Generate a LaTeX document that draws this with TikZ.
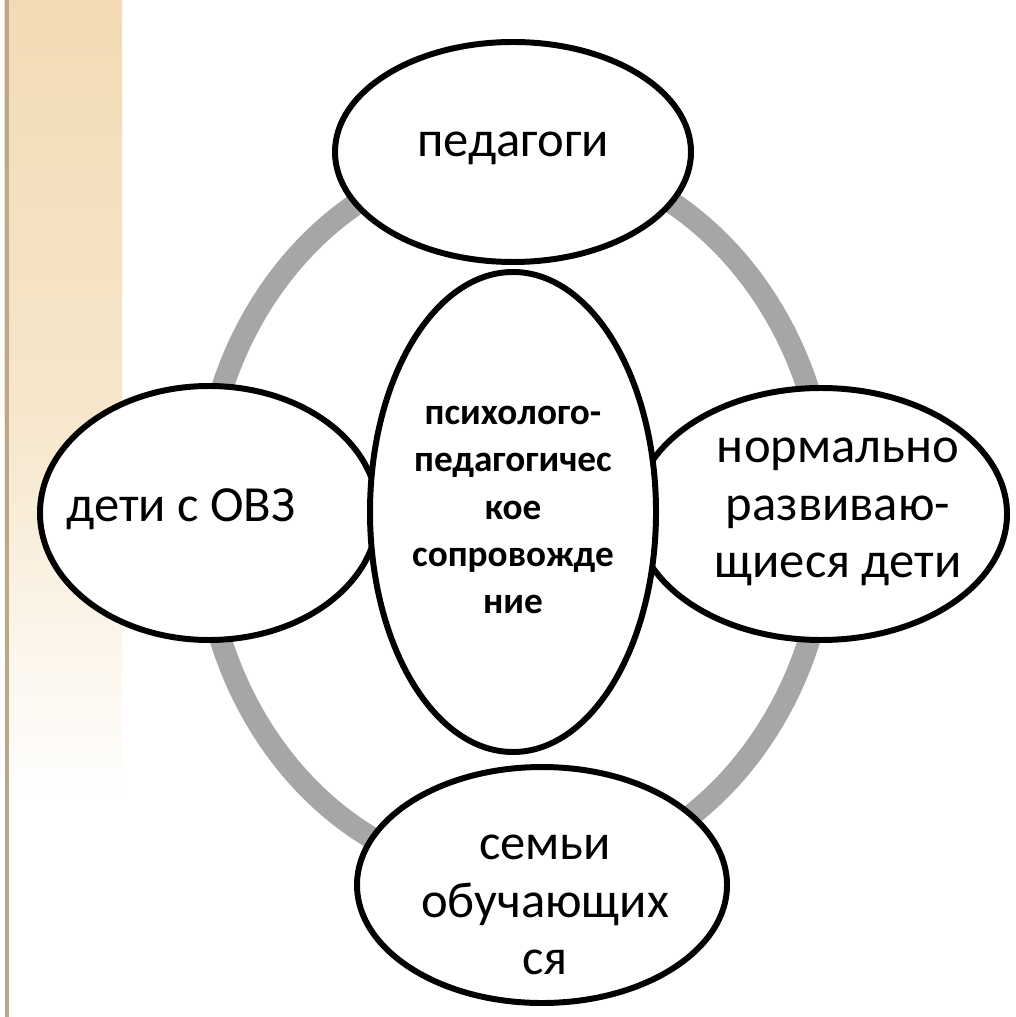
\documentclass[tikz,border=0pt]{standalone}
\usepackage{fontspec}
\setmainfont{Carlito}
\usetikzlibrary{shapes.geometric}
\definecolor{ringgray}{RGB}{166,166,166}
\definecolor{stripbeige}{RGB}{242,219,180}
\definecolor{stripline}{RGB}{185,168,140}

\begin{document}
\begin{tikzpicture}[
        bubble/.style={draw, line width=1.7pt, ellipse, fill=white, inner sep=0pt},
        lbl/.style={align=center, inner sep=0pt, font=\fontsize{14.4}{16.4}\selectfont},
        ring/.style={line width=6.3pt, color=ringgray}]
            \useasboundingbox (0,0) rectangle (10.15,-10.17);
            % beige strip on the left
            \shade[top color=stripbeige, bottom color=white, middle color=stripbeige!70]
                  (0.04,0) rectangle (1.22,-8.0);
            \fill[stripline] (0.05,0) rectangle (0.09,-10.17);
            % gray ring behind the bubbles
            \coordinate (hub) at (5.15,-5.16);
            \draw[ring] (hub) ellipse [x radius=3.13, y radius=3.62];
            % bubbles
            \node[bubble, minimum width=3.56cm, minimum height=2.2cm] (teach) at (5.13,-1.52) {};
            \node[bubble, minimum width=3.38cm, minimum height=2.54cm] (ovz) at (2.09,-5.13) {};
            \node[bubble, minimum width=3.72cm, minimum height=2.52cm] (norm) at (8.21,-5.14) {};
            \node[bubble, minimum width=3.7cm, minimum height=2.36cm] (family) at (5.42,-8.85) {};
            \node[bubble, minimum width=2.86cm, minimum height=4.8cm] (support) at (5.13,-5.12) {};
            % texts
            \node[lbl] (teachtext) at ([yshift=0.04cm]teach) {педагоги};
            \node[lbl] (ovztext) at ([xshift=-0.28cm, yshift=0.04cm]ovz) {дети с ОВЗ};
            \node[lbl] (normtext) at ([xshift=0.17cm, yshift=0.02cm]norm)
                  {нормально\\развиваю-\\щиеся дети};
            \node[lbl] (familytext) at ([xshift=0.03cm, yshift=-0.2cm]family)
                  {семьи\\обучающих\\ся};
            \node[lbl, font=\fontsize{10.6}{13.4}\selectfont\bfseries] (supporttext)
                  at ([yshift=0.02cm]support)
                  {психолого-\\педагогичес\\кое\\сопровожде\\ние};
        \end{tikzpicture}
\end{document}
